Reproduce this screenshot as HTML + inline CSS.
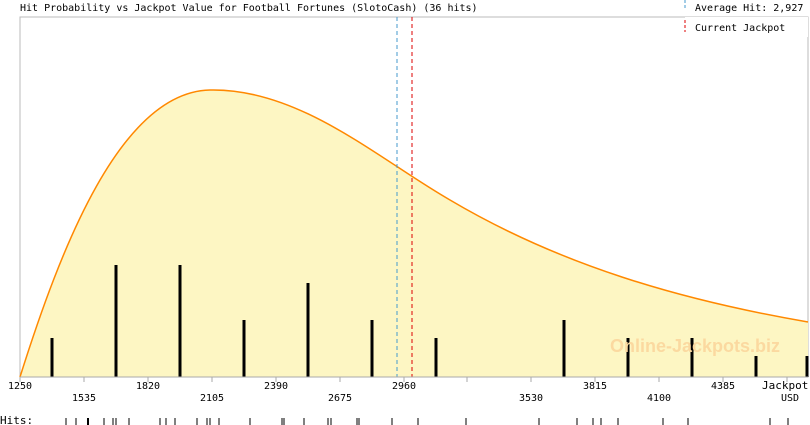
<!DOCTYPE html><html><head><style>body{margin:0;background:#fff}svg{display:block}text{font-family:"DejaVu Sans Mono","Liberation Mono",monospace;font-size:10px;fill:#000}</style></head><body>
<svg width="810" height="425" xmlns="http://www.w3.org/2000/svg">
<rect x="20" y="17" width="788" height="360" fill="#fff" stroke="#bbb"/>
<path d="M20,377 C60,250 120,92 210,90 C300,88 380,160 450,200 C560,265 680,300 808,322 L808,377 Z" fill="#fdf6c3"/>
<path d="M20,377 C60,250 120,92 210,90 C300,88 380,160 450,200 C560,265 680,300 808,322" fill="none" stroke="#ff8800" stroke-width="1.5"/>
<g stroke="#000" stroke-width="3">
<line x1="52" y1="377" x2="52" y2="338"/><line x1="116" y1="377" x2="116" y2="265"/><line x1="180" y1="377" x2="180" y2="265"/><line x1="244" y1="377" x2="244" y2="320"/><line x1="308" y1="377" x2="308" y2="283"/><line x1="372" y1="377" x2="372" y2="320"/><line x1="436" y1="377" x2="436" y2="338"/><line x1="564" y1="377" x2="564" y2="320"/><line x1="628" y1="377" x2="628" y2="338"/><line x1="692" y1="377" x2="692" y2="338"/><line x1="756" y1="377" x2="756" y2="356"/><line x1="807" y1="377" x2="807" y2="356"/>
</g>
<line x1="397" y1="17" x2="397" y2="377" stroke="#4499cc" stroke-dasharray="4,3"/>
<line x1="412" y1="17" x2="412" y2="377" stroke="#dd0000" stroke-dasharray="4,3"/>
<text x="610" y="352" style="font-family:'Liberation Sans',sans-serif;font-size:18px;font-weight:bold;fill:#fbd9a0">Online-Jackpots.biz</text>
<line x1="20" y1="377" x2="808" y2="377" stroke="#aaa"/>
<g stroke="#aaa"><line x1="20" y1="377" x2="20" y2="382"/><line x1="84" y1="377" x2="84" y2="382"/><line x1="148" y1="377" x2="148" y2="382"/><line x1="212" y1="377" x2="212" y2="382"/><line x1="276" y1="377" x2="276" y2="382"/><line x1="340" y1="377" x2="340" y2="382"/><line x1="404" y1="377" x2="404" y2="382"/><line x1="467" y1="377" x2="467" y2="382"/><line x1="531" y1="377" x2="531" y2="382"/><line x1="595" y1="377" x2="595" y2="382"/><line x1="659" y1="377" x2="659" y2="382"/><line x1="723" y1="377" x2="723" y2="382"/><line x1="787" y1="377" x2="787" y2="382"/></g>
<g text-anchor="middle" style="font-size:9px">
<text x="20" y="389">1250</text><text x="148" y="389">1820</text><text x="276" y="389">2390</text><text x="404" y="389">2960</text><text x="595" y="389">3815</text><text x="723" y="389">4385</text>
<text x="84" y="401">1535</text><text x="212" y="401">2105</text><text x="340" y="401">2675</text><text x="531" y="401">3530</text><text x="659" y="401">4100</text><text x="790" y="401">USD</text>
</g>
<text x="762" y="389" style="font-size:11px">Jackpot,</text>
<text x="0" y="424" style="font-size:11px">Hits:</text>
<g stroke="#000">
<line x1="66" y1="418" x2="66" y2="425"/><line x1="76" y1="418" x2="76" y2="425"/><line x1="88" y1="418" x2="88" y2="425" stroke-width="2"/><line x1="104" y1="418" x2="104" y2="425"/><line x1="113" y1="418" x2="113" y2="425"/><line x1="116" y1="418" x2="116" y2="425"/><line x1="129" y1="418" x2="129" y2="425"/><line x1="160" y1="418" x2="160" y2="425"/><line x1="166" y1="418" x2="166" y2="425"/><line x1="175" y1="418" x2="175" y2="425"/><line x1="197" y1="418" x2="197" y2="425"/><line x1="207" y1="418" x2="207" y2="425"/><line x1="210" y1="418" x2="210" y2="425"/><line x1="219" y1="418" x2="219" y2="425"/><line x1="250" y1="418" x2="250" y2="425"/><line x1="282" y1="418" x2="282" y2="425"/><line x1="284" y1="418" x2="284" y2="425"/><line x1="304" y1="418" x2="304" y2="425"/><line x1="328" y1="418" x2="328" y2="425"/><line x1="331" y1="418" x2="331" y2="425"/><line x1="357" y1="418" x2="357" y2="425"/><line x1="359" y1="418" x2="359" y2="425"/><line x1="392" y1="418" x2="392" y2="425"/><line x1="418" y1="418" x2="418" y2="425"/><line x1="466" y1="418" x2="466" y2="425"/><line x1="539" y1="418" x2="539" y2="425"/><line x1="577" y1="418" x2="577" y2="425"/><line x1="593" y1="418" x2="593" y2="425"/><line x1="601" y1="418" x2="601" y2="425"/><line x1="618" y1="418" x2="618" y2="425"/><line x1="663" y1="418" x2="663" y2="425"/><line x1="688" y1="418" x2="688" y2="425"/><line x1="770" y1="418" x2="770" y2="425"/><line x1="788" y1="418" x2="788" y2="425"/>
</g>
<text x="20" y="11">Hit Probability vs Jackpot Value for Football Fortunes (SlotoCash) (36 hits)</text>
<rect x="685" y="17" width="123" height="20" fill="#fff"/>
<line x1="685" y1="0" x2="685" y2="10" stroke="#4499cc" stroke-dasharray="3,2"/>
<line x1="685" y1="20" x2="685" y2="32" stroke="#dd0000" stroke-dasharray="3,2"/>
<text x="695" y="11">Average Hit: 2,927</text>
<text x="695" y="31">Current Jackpot</text>
</svg></body></html>
